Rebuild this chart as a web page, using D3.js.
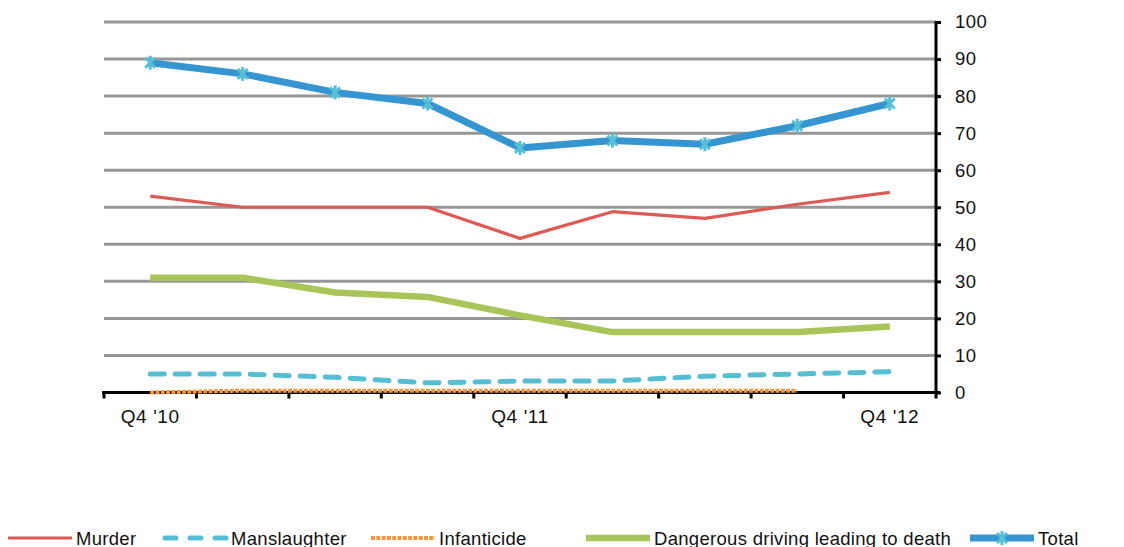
<!DOCTYPE html>
<html><head><meta charset="utf-8">
<script src="https://cdn.jsdelivr.net/npm/d3@7"></script>
<style>body{margin:0;background:#fff}svg{display:block;font-family:"Liberation Sans",Arial,sans-serif}</style>
</head><body><svg id="c" width="1124" height="547"></svg>
<script>
const categories = ["Q4 '10","Q1 '11","Q2 '11","Q3 '11","Q4 '11","Q1 '12","Q2 '12","Q3 '12","Q4 '12"];
const tickLabels = ["Q4 '10","","","","Q4 '11","","","","Q4 '12"];
const murder = [53, 50, 50, 50, 41.6, 48.8, 47, 50.8, 54];
const manslaughter = [5.0, 5.0, 4.1, 2.6, 3.1, 3.1, 4.4, 5.0, 5.6];
const infanticide = [0, 0.5, 0.5, 0.5, 0.5, 0.5, 0.5, 0.5, null];
const dangerous = [31, 31, 27, 25.8, 20.8, 16.3, 16.3, 16.3, 17.8];
const total = [89, 86, 81, 78, 66, 68, 67, 72, 78];
const yTicks = [0,10,20,30,40,50,60,70,80,90,100];

const series = [
  {name:"Murder", values:murder, color:"#DD5A55", width:3.2, dash:null},
  {name:"Manslaughter", values:manslaughter, color:"#55BED3", width:5, dash:"14,11"},
  {name:"Infanticide", values:infanticide, color:"#F5963F", width:4, dash:"4,1.3"},
  {name:"Dangerous driving leading to death", values:dangerous, color:"#A9C55A", width:6.5, dash:null},
  {name:"Total", values:total, color:"#3595D0", width:7, dash:null, marker:true}
];

const svg = d3.select("#c");
const L = 104, R = 936, T = 22, B = 392.5;
const x = d3.scaleBand().domain(categories).range([L, R]).padding(0);
const y = d3.scaleLinear().domain([0,100]).range([B, T]);
const cx = d => x(d) + x.bandwidth()/2;
const FONT = "Liberation Sans, Arial, sans-serif";

// gridlines
svg.append("g").selectAll("line").data(yTicks.filter(v=>v>0)).join("line")
  .attr("x1", L).attr("x2", R).attr("y1", d=>y(d)).attr("y2", d=>y(d))
  .attr("stroke", "#979797").attr("stroke-width", 3);

// right axis
const yAxis = d3.axisRight(y).tickValues(yTicks).tickSize(5).tickPadding(14);
const gy = svg.append("g").attr("transform", `translate(${R},0)`).call(yAxis);
gy.select(".domain").attr("stroke","#000").attr("stroke-width",3).attr("d", `M0,${B}V${T-1}`);
gy.selectAll(".tick line").attr("stroke","#000").attr("stroke-width",3);
gy.selectAll(".tick text").attr("font-size",18.5).attr("letter-spacing",0.4).attr("fill","#111").attr("font-family",FONT);

// bottom axis: ticks at band boundaries
svg.append("line").attr("x1", L-2).attr("x2", R+4).attr("y1", B).attr("y2", B)
  .attr("stroke","#000").attr("stroke-width",3);
const bounds = categories.map(c=>x(c)).concat([R]);
svg.append("g").selectAll("line").data(bounds).join("line")
  .attr("x1", d=>d).attr("x2", d=>d).attr("y1", B).attr("y2", B+6)
  .attr("stroke","#000").attr("stroke-width",3);
svg.append("g").selectAll("text").data(categories).join("text")
  .attr("x", d=>cx(d)).attr("y", 423).attr("text-anchor","middle")
  .attr("font-size",19).attr("letter-spacing",0.6).attr("fill","#111")
  .text((d,i)=>tickLabels[i]);

// lines
const line = d3.line().defined(d=>d.v!=null).x(d=>cx(d.c)).y(d=>y(d.v));
series.forEach(s=>{
  const pts = categories.map((c,i)=>({c, v:s.values[i]}));
  svg.append("path").datum(pts).attr("d", line).attr("fill","none")
    .attr("stroke", s.color).attr("stroke-width", s.width)
    .attr("stroke-dasharray", s.dash).attr("stroke-linejoin","round")
    .attr("stroke-linecap", s.name==="Manslaughter" ? "round" : "butt");
});

function marker(g, px, py){
  const r = 7;
  [45, 135].forEach(a=>{
    const rad = a*Math.PI/180;
    g.append("line").attr("x1", px - r*Math.cos(rad)).attr("y1", py - r*Math.sin(rad))
     .attr("x2", px + r*Math.cos(rad)).attr("y2", py + r*Math.sin(rad))
     .attr("stroke","#56BFD6").attr("stroke-width",3);
  });
  g.append("line").attr("x1", px).attr("y1", py - r).attr("x2", px).attr("y2", py + r)
     .attr("stroke","#56BFD6").attr("stroke-width",3);
}
const mg = svg.append("g");
total.forEach((v,i)=>marker(mg, cx(categories[i]), y(v)));

// legend
const legendPos = [8, 163, 371, 586, 970];
const lg = svg.append("g");
series.forEach((s,i)=>{
  const lx = legendPos[i], ly = 538;
  lg.append("line").attr("x1", lx + (s.name==="Manslaughter"?2:0)).attr("x2", lx+64).attr("y1", ly).attr("y2", ly)
    .attr("stroke", s.color).attr("stroke-width", s.width)
    .attr("stroke-dasharray", s.name==="Manslaughter" ? "11,14" : s.dash)
    .attr("stroke-linecap", s.name==="Manslaughter" ? "round" : "butt");
  if (s.marker) marker(lg, lx+32, ly);
  lg.append("text").attr("x", lx+68).attr("y", ly+6.5).attr("font-size",18.5)
    .attr("letter-spacing",0.3).attr("fill","#111").text(s.name);
});
</script></body></html>
